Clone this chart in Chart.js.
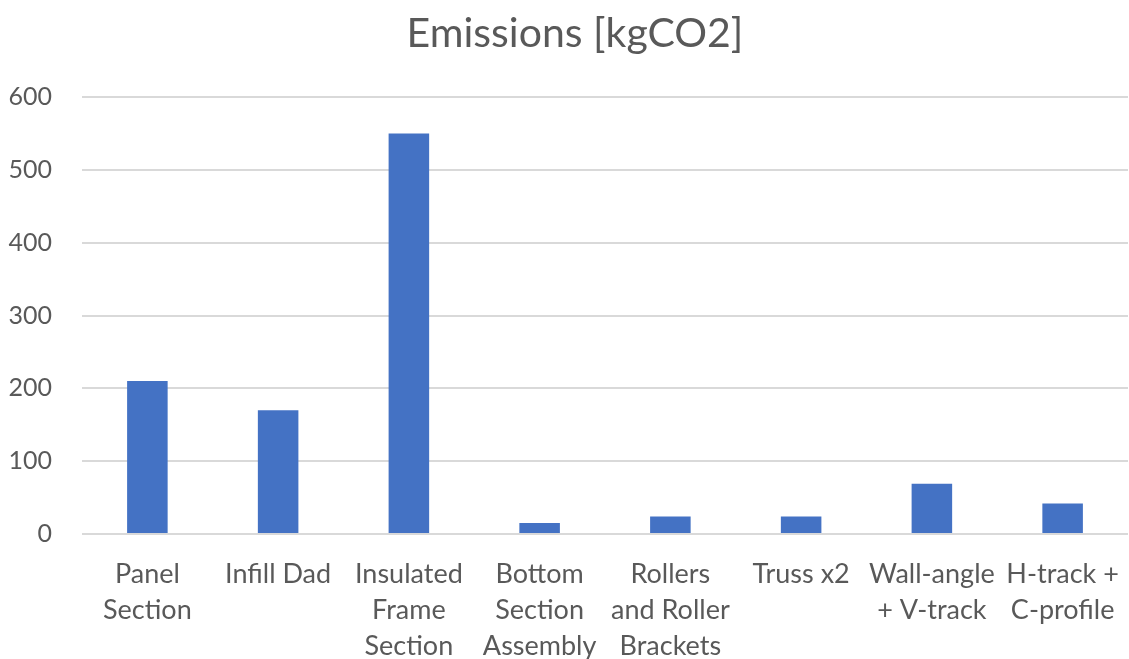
<!DOCTYPE html>
<html>
<head>
<meta charset="utf-8">
<script src="https://cdn.jsdelivr.net/npm/chart.js@4"></script>
<style>
  html, body { margin: 0; padding: 0; background: #ffffff; }
  #wrap { width: 1129px; height: 659px; }
</style>
</head>
<body>
<div id="wrap"><canvas id="c" width="1129" height="659"></canvas></div>
<script>
const categories = [
  ["Panel", "Section"],
  ["Infill Dad"],
  ["Insulated", "Frame", "Section"],
  ["Bottom", "Section", "Assembly"],
  ["Rollers", "and Roller", "Brackets"],
  ["Truss x2"],
  ["Wall-angle", "+ V-track"],
  ["H-track +", "C-profile"]
];
const emissions = [210, 170, 550, 15, 24, 24, 69, 42];
const titleText = "Emissions [kgCO2]";
const yTicks = { min: 0, max: 600, step: 100 };

const FONT = "Lato, 'Open Sans', 'Liberation Sans', sans-serif";
const GREY = "#595959";

// centre the title where the reference has it
const titleShift = {
  id: "titleShift",
  afterLayout(chart) {
    const t = chart.titleBlock;
    if (t) { t.left = chart.chartArea.left - 60; t.right = chart.chartArea.right; }
  }
};

new Chart(document.getElementById("c"), {
  type: "bar",
  data: {
    labels: categories,
    datasets: [{
      label: titleText,
      data: emissions,
      backgroundColor: "#4472C4",
      borderWidth: 0,
      barPercentage: 0.31,
      categoryPercentage: 1.0
    }]
  },
  plugins: [titleShift],
  options: {
    responsive: false,
    animation: false,
    devicePixelRatio: 1,
    layout: { padding: { left: 0, right: 1, top: 0, bottom: 0 } },
    plugins: {
      legend: { display: false },
      tooltip: { enabled: false },
      title: {
        display: true,
        text: titleText,
        color: GREY,
        font: { family: FONT, size: 41, weight: "normal", lineHeight: 1.2 },
        padding: { top: 9, bottom: 39 }
      }
    },
    scales: {
      x: {
        grid: { display: false, drawTicks: false },
        border: { display: false },
        ticks: {
          color: GREY,
          font: { family: FONT, size: 27, lineHeight: 1.333 },
          maxRotation: 0,
          minRotation: 0,
          autoSkip: false,
          padding: 22
        },
        afterFit: (s) => { s.height = 125; s.paddingLeft = 0; s.paddingRight = 0; }
      },
      y: {
        min: yTicks.min,
        max: yTicks.max,
        grid: { color: "#D9D9D9", lineWidth: 2, drawTicks: false },
        border: { display: false },
        ticks: {
          stepSize: yTicks.step,
          color: GREY,
          font: { family: FONT, size: 25 },
          padding: 30
        },
        afterFit: (s) => { s.width = 82; s.paddingTop = 0; s.paddingBottom = 0; }
      }
    }
  }
});
</script>
</body>
</html>
